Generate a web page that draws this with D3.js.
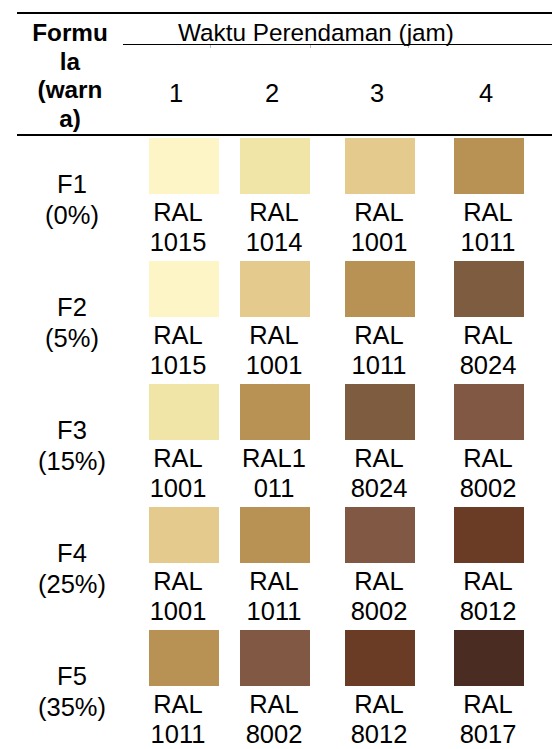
<!DOCTYPE html>
<html>
<head>
<meta charset="utf-8">
<script src="https://cdn.jsdelivr.net/npm/d3@7"></script>
<style>
  html, body { margin: 0; padding: 0; background: #fff; }
  svg { display: block; font-family: "Liberation Sans", Arial, sans-serif; }
</style>
</head>
<body>
<svg id="chart" width="552" height="749"></svg>
<script>
// ---- data ----
const formulas = ["F1", "F2", "F3", "F4", "F5"];
const percents = ["(0%)", "(5%)", "(15%)", "(25%)", "(35%)"];
const times = ["1", "2", "3", "4"];
const headerTitle = "Waktu Perendaman (jam)";
const formulaHeader = ["Formu", "la", "(warn", "a)"];
// RAL label lines per cell (row = formula, column = time)
const ralF1 = ["RAL\n1015", "RAL\n1014", "RAL\n1001", "RAL\n1011"];
const ralF2 = ["RAL\n1015", "RAL\n1001", "RAL\n1011", "RAL\n8024"];
const ralF3 = ["RAL\n1001", "RAL1\n011", "RAL\n8024", "RAL\n8002"];
const ralF4 = ["RAL\n1001", "RAL\n1011", "RAL\n8002", "RAL\n8012"];
const ralF5 = ["RAL\n1011", "RAL\n8002", "RAL\n8012", "RAL\n8017"];
// swatch colours as shown per cell
const swF1 = ["#FDF5C6", "#F1E4A7", "#E5CA8E", "#B89154"];
const swF2 = ["#FDF5C6", "#E5CA8E", "#B89154", "#7E5C40"];
const swF3 = ["#F1E4A7", "#B89154", "#7E5C40", "#815843"];
const swF4 = ["#E5CA8E", "#B89154", "#815843", "#6B3C25"];
const swF5 = ["#B89154", "#815843", "#6B3C25", "#4A2C23"];

// ---- build ----
const rows = [ralF1, ralF2, ralF3, ralF4, ralF5];
const swRows = [swF1, swF2, swF3, swF4, swF5];
const cells = [];
rows.forEach((r, i) => r.forEach((lab, j) => {
  cells.push({ formula: formulas[i], time: times[j], lines: lab.split("\n"), fill: swRows[i][j] });
}));

const svg = d3.select("#chart");
const colX = d3.scaleOrdinal().domain(times).range([178, 274, 379, 488]);
const rowY = d3.scaleBand().domain(formulas).range([138, 138 + 123 * formulas.length]);
const FS = 25.5, FH = 24.3;
const swW = 70, swH = 56;

// rules
svg.append("line").attr("x1", 17).attr("x2", 552).attr("y1", 13).attr("y2", 13)
  .attr("stroke", "#000").attr("stroke-width", 2);
svg.append("line").attr("x1", 123).attr("x2", 552).attr("y1", 44.5).attr("y2", 44.5)
  .attr("stroke", "#000").attr("stroke-width", 1);
[210, 310, 408].forEach(x => svg.append("line").attr("x1", x + 0.5).attr("x2", x + 0.5)
  .attr("y1", 45).attr("y2", 48).attr("stroke", "#bbb").attr("stroke-width", 1));
svg.append("line").attr("x1", 17).attr("x2", 552).attr("y1", 135).attr("y2", 135)
  .attr("stroke", "#000").attr("stroke-width", 2);

// header
svg.append("g").selectAll("text").data(formulaHeader).join("text")
  .attr("x", 70).attr("y", (d, i) => 41 + i * 28.5)
  .attr("text-anchor", "middle").attr("font-size", FH).attr("font-weight", "bold")
  .attr("fill", "#000").text(d => d);
svg.append("text").attr("x", 316).attr("y", 41).attr("text-anchor", "middle")
  .attr("font-size", FH).attr("fill", "#000").text(headerTitle);
svg.append("g").selectAll("text").data(times).join("text")
  .attr("x", d => colX(d) - 2).attr("y", 102).attr("text-anchor", "middle")
  .attr("font-size", FS).attr("fill", "#000").text(d => d);

// row labels
const rl = svg.append("g").selectAll("g").data(formulas).join("g");
rl.append("text").attr("x", 72).attr("y", d => rowY(d) + 55)
  .attr("text-anchor", "middle").attr("font-size", FS).attr("fill", "#000").text(d => d);
rl.append("text").attr("x", 72).attr("y", d => rowY(d) + 86)
  .attr("text-anchor", "middle").attr("font-size", FS).attr("fill", "#000")
  .text((d, i) => percents[i]);

// swatches
const cg = svg.append("g").selectAll("g").data(cells).join("g");
cg.append("rect")
  .attr("x", d => colX(d.time) - swW / 2 + (d.time === "1" ? 6 : 1))
  .attr("y", d => rowY(d.formula))
  .attr("width", swW).attr("height", swH)
  .attr("fill", d => d.fill);
cg.each(function(d) {
  d3.select(this).selectAll("text.l").data(d.lines).join("text")
    .attr("class", "l")
    .attr("x", colX(d.time))
    .attr("y", (t, k) => rowY(d.formula) + 83 + k * 30)
    .attr("text-anchor", "middle").attr("font-size", FS).attr("fill", "#000")
    .text(t => t);
});
</script>
</body>
</html>
